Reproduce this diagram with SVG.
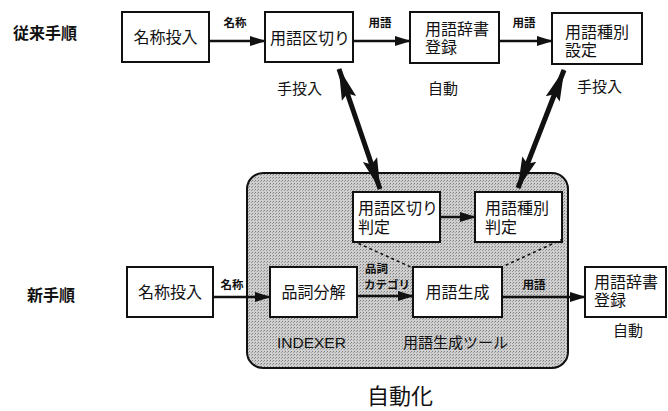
<svg xmlns="http://www.w3.org/2000/svg" width="668" height="411" viewBox="0 0 668 411">
<defs>
<style>
text { font-family: "Noto Sans CJK JP", "Liberation Sans", sans-serif; fill: #111; }
.box { fill: #fff; stroke: #111; stroke-width: 2; }
.t16 { font-size: 16px; }
.lbl { font-size: 11.5px; font-weight: bold; }
.head { font-size: 16px; font-weight: bold; }
.note { font-size: 15px; }
.flow { stroke: #111; stroke-width: 2.5; fill: none; marker-end: url(#ah); }
.big { stroke: #111; stroke-width: 5; fill: none; marker-end: url(#bh); marker-start: url(#bs); }
.dash { stroke: #111; stroke-width: 1.5; stroke-dasharray: 3 3; fill: none; }
</style>
<marker id="ah" markerUnits="userSpaceOnUse" markerWidth="16" markerHeight="12" refX="15" refY="6" orient="auto">
<path d="M0,1 L16,6 L0,11 Z" fill="#111"/>
</marker>
<marker id="bh" markerUnits="userSpaceOnUse" markerWidth="32" markerHeight="18" refX="31" refY="9" orient="auto">
<path d="M0,1.5 L32,9 L0,16.5 L5,9 Z" fill="#111"/>
</marker>
<marker id="bs" markerUnits="userSpaceOnUse" markerWidth="32" markerHeight="18" refX="1" refY="9" orient="auto">
<path d="M32,1.5 L0,9 L32,16.5 L27,9 Z" fill="#111"/>
</marker>
<pattern id="dots" width="3" height="3" patternUnits="userSpaceOnUse">
<rect width="3" height="3" fill="#cfcfcf"/>
<rect width="1" height="1" fill="#7f7f7f"/>
<rect x="2" y="1" width="1" height="1" fill="#9c9c9c"/>
</pattern>
</defs>
<rect width="668" height="411" fill="#fff"/>

<g id="tool-area">
<rect x="247" y="173" width="321" height="195" rx="16" fill="url(#dots)" stroke="#111" stroke-width="2"/>
<text x="277" y="348" style="font-family:'Liberation Sans',sans-serif;font-size:15.5px">INDEXER</text>
<text x="403" y="348" class="note">用語生成ツール</text>
</g>

<g id="labels">
<text x="13" y="39" class="head">従来手順</text>
<text x="27" y="301" class="head">新手順</text>
<text x="277" y="94" class="note">手投入</text>
<text x="428" y="94" class="note">自動</text>
<text x="577" y="92" class="note">手投入</text>
<text x="613" y="336" class="note">自動</text>
<text x="367" y="404" style="font-size:22px">自動化</text>
</g>

<g id="old-input">
<rect class="box" x="122" y="12" width="87" height="50"/>
<text x="165.5" y="43" class="t16" text-anchor="middle">名称投入</text>
</g>
<g id="old-split">
<rect class="box" x="265" y="12" width="88" height="50"/>
<text x="310" y="44" class="t16" text-anchor="middle">用語区切り</text>
</g>
<g id="old-dict">
<rect class="box" x="410" y="12" width="89" height="51"/>
<text class="t16"><tspan x="425" y="35">用語辞書</tspan><tspan x="425" y="53">登録</tspan></text>
</g>
<g id="old-type">
<rect class="box" x="552" y="13" width="90" height="51"/>
<text class="t16"><tspan x="565" y="38">用語種別</tspan><tspan x="565" y="56">設定</tspan></text>
</g>

<g id="new-input">
<rect class="box" x="127" y="267" width="86" height="50"/>
<text x="170" y="298" class="t16" text-anchor="middle">名称投入</text>
</g>
<g id="pos">
<rect class="box" x="270" y="267" width="87" height="50"/>
<text x="313.5" y="298" class="t16" text-anchor="middle">品詞分解</text>
</g>
<g id="gen">
<rect class="box" x="413" y="267" width="89" height="50"/>
<text x="457.5" y="298" class="t16" text-anchor="middle">用語生成</text>
</g>
<g id="split-judge">
<rect class="box" x="353" y="192" width="87" height="50"/>
<text class="t16"><tspan x="358" y="214">用語区切り</tspan><tspan x="358" y="233">判定</tspan></text>
</g>
<g id="type-judge">
<rect class="box" x="475" y="192" width="87" height="50"/>
<text class="t16"><tspan x="485" y="214">用語種別</tspan><tspan x="485" y="233">判定</tspan></text>
</g>
<g id="new-dict">
<rect class="box" x="585" y="267" width="81" height="50"/>
<text class="t16"><tspan x="594" y="288">用語辞書</tspan><tspan x="594" y="306">登録</tspan></text>
</g>

<g id="connectors">
<line class="flow" x1="209" y1="41" x2="265" y2="41"/>
<line class="flow" x1="353" y1="41" x2="410" y2="41"/>
<line class="flow" x1="499" y1="41" x2="552" y2="41"/>
<line class="flow" x1="213" y1="297" x2="270" y2="297"/>
<line class="flow" x1="357" y1="296" x2="413" y2="296"/>
<line class="flow" x1="502" y1="297" x2="585" y2="297"/>
<line class="flow" x1="440" y1="217" x2="475" y2="217"/>
<line class="big" x1="339" y1="69" x2="380" y2="189"/>
<line class="big" x1="564" y1="70" x2="518" y2="188"/>
<line class="dash" x1="353" y1="241" x2="413" y2="268"/>
<line class="dash" x1="563" y1="239" x2="502" y2="267"/>
<text x="235" y="27" class="lbl" text-anchor="middle">名称</text>
<text x="380" y="27" class="lbl" text-anchor="middle">用語</text>
<text x="524" y="27" class="lbl" text-anchor="middle">用語</text>
<text x="232" y="289" class="lbl" text-anchor="middle">名称</text>
<text class="lbl"><tspan x="365" y="273">品詞</tspan><tspan x="364" y="289">カテゴリ</tspan></text>
<text x="534" y="289" class="lbl" text-anchor="middle">用語</text>
</g>
</svg>
